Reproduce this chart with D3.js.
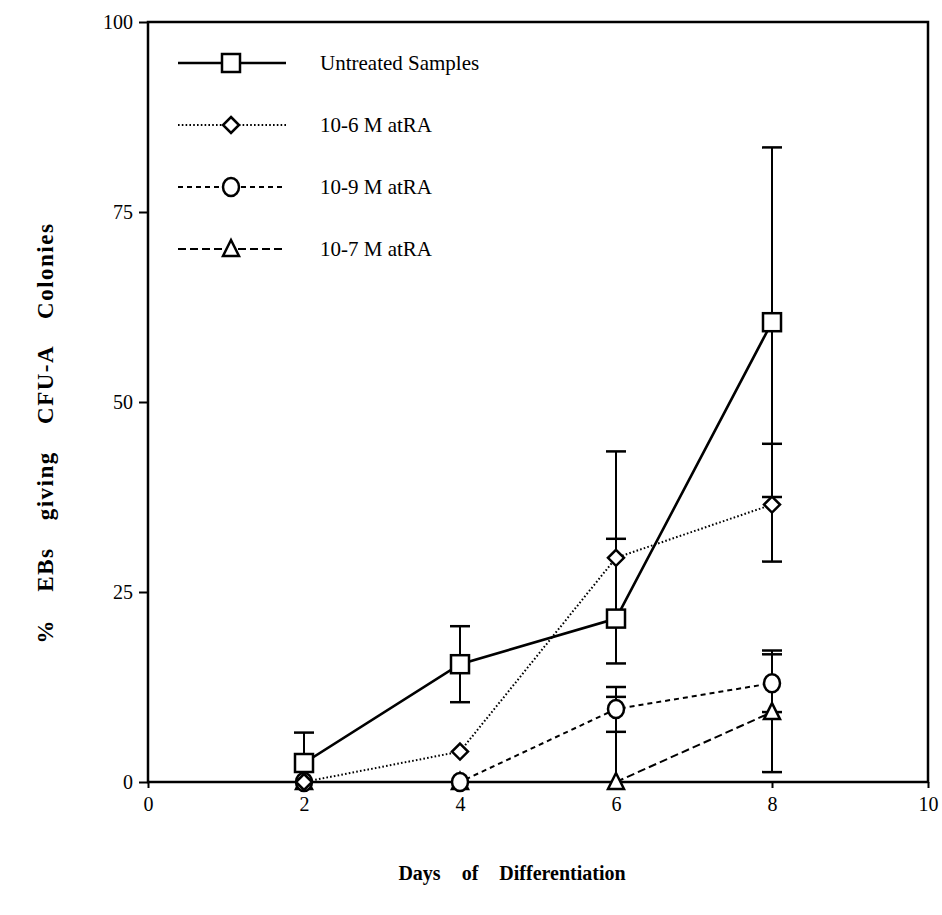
<!DOCTYPE html>
<html>
<head>
<meta charset="utf-8">
<script src="https://cdn.jsdelivr.net/npm/d3@7"></script>
<style>
  body { margin: 0; background: #fff; }
  svg { display: block; }
</style>
</head>
<body>
<main></main>
<script>
// Dados
const days = [2, 4, 6, 8];
const seriesNames = ['Untreated Samples', '10-6 M atRA', '10-9 M atRA', '10-7 M atRA'];
const untreated = [2.5, 15.5, 21.5, 60.5];
const untreatedHi = [6.5, 20.5, 43.5, 83.5];
const untreatedLo = [null, 10.5, 15.6, 37.5];
const atra6 = [0, 4, 29.5, 36.5];
const atra6Hi = [null, null, 32, 44.5];
const atra6Lo = [null, null, null, 29];
const atra9 = [0, 0, 9.6, 13];
const atra9Hi = [null, null, 12.5, 16.8];
const atra9Lo = [null, null, 6.6, 9.2];
const atra7 = [0, 0, 0, 9.2];
const atra7Hi = [null, null, 11.2, 17.3];
const atra7Lo = [null, null, null, 1.3];
const xTicks = [0, 2, 4, 6, 8, 10];
const yTicks = [0, 25, 50, 75, 100];

const series = [
  { name: seriesNames[0], y: untreated, hi: untreatedHi, lo: untreatedLo, dash: null, width: 2.6, marker: 'square' },
  { name: seriesNames[1], y: atra6, hi: atra6Hi, lo: atra6Lo, dash: '1.6,2.2', width: 2, marker: 'diamond' },
  { name: seriesNames[2], y: atra9, hi: atra9Hi, lo: atra9Lo, dash: '5,4', width: 2, marker: 'circle' },
  { name: seriesNames[3], y: atra7, hi: atra7Hi, lo: atra7Lo, dash: '8,4', width: 2, marker: 'triangle' }
];

const svgWidth = 942, svgHeight = 915;
const margin = { top: 22, right: 14, bottom: 133, left: 148 };
const width = svgWidth - margin.left - margin.right;
const height = svgHeight - margin.top - margin.bottom;

const svg = d3.select('main').append('svg')
  .attr('width', svgWidth)
  .attr('height', svgHeight);

const g = svg.append('g')
  .attr('transform', `translate(${margin.left},${margin.top})`);

const x = d3.scaleLinear().domain([0, 10]).range([0, width]);
const y = d3.scaleLinear().domain([0, 100]).range([height, 0]);

// Moldura
g.append('rect')
  .attr('width', width).attr('height', height)
  .attr('fill', 'none').attr('stroke', '#000').attr('stroke-width', 2.5);

// Eixos
const yAxis = g.append('g')
  .call(d3.axisLeft(y).tickValues(yTicks).tickSize(9).tickPadding(6));
yAxis.select('.domain').remove();
yAxis.selectAll('line').attr('stroke-width', 2);
yAxis.selectAll('text')
  .attr('font-family', 'Liberation Serif').attr('font-size', 20).attr('fill', '#000');

const xAxis = g.append('g')
  .attr('transform', `translate(0,${height})`)
  .call(d3.axisBottom(x).tickValues(xTicks).tickSize(6).tickPadding(9));
xAxis.select('.domain').remove();
xAxis.selectAll('line').attr('stroke-width', 2);
xAxis.selectAll('text')
  .attr('font-family', 'Liberation Serif')
  .attr('font-size', 20)
  .attr('fill', '#000');

// Marcadores
function drawMarker(sel, type) {
  if (type === 'square') {
    sel.append('rect').attr('x', -9).attr('y', -9).attr('width', 18).attr('height', 18);
  } else if (type === 'diamond') {
    sel.append('path').attr('d', 'M0,-8L8,0L0,8L-8,0Z');
  } else if (type === 'circle') {
    sel.append('ellipse').attr('rx', 8).attr('ry', 9);
  } else {
    sel.append('path').attr('d', 'M0,-9L8,7L-8,7Z');
  }
  sel.selectAll('*').attr('fill', '#fff').attr('stroke', '#000').attr('stroke-width', 2.5);
}

const line = d3.line().x((d, i) => x(days[i])).y(d => y(d));

// Barras de erro
series.forEach(s => {
  days.forEach((d, i) => {
    [s.hi[i], s.lo[i]].forEach(v => {
      if (v === null) return;
      g.append('line')
        .attr('x1', x(d)).attr('x2', x(d))
        .attr('y1', y(s.y[i])).attr('y2', y(v))
        .attr('stroke', '#000').attr('stroke-width', 2);
      g.append('line')
        .attr('x1', x(d) - 10).attr('x2', x(d) + 10)
        .attr('y1', y(v)).attr('y2', y(v))
        .attr('stroke', '#000').attr('stroke-width', 2.5);
    });
  });
});

// Linhas
series.forEach(s => {
  g.append('path')
    .datum(s.y)
    .attr('d', line)
    .attr('fill', 'none')
    .attr('stroke', '#000')
    .attr('stroke-width', s.width)
    .attr('stroke-dasharray', s.dash);
});

// Pontos
series.slice().reverse().forEach(s => {
  s.y.forEach((v, i) => {
    const m = g.append('g').attr('transform', `translate(${x(days[i])},${y(v)})`);
    drawMarker(m, s.marker);
  });
});

// Legenda
const legend = svg.append('g');
series.forEach((s, i) => {
  const ly = 63 + i * 62;
  legend.append('line')
    .attr('x1', 178).attr('x2', 286).attr('y1', ly).attr('y2', ly)
    .attr('stroke', '#000').attr('stroke-width', s.width)
    .attr('stroke-dasharray', s.dash);
  const m = legend.append('g').attr('transform', `translate(231,${ly})`);
  drawMarker(m, s.marker);
  legend.append('text')
    .attr('x', 320).attr('y', ly + 7)
    .attr('font-family', 'Liberation Serif').attr('font-size', 21)
    .text(s.name);
});

// Títulos
svg.append('text')
  .attr('transform', 'translate(53,433) rotate(-90)')
  .attr('text-anchor', 'middle')
  .attr('font-family', 'Liberation Serif').attr('font-weight', 'bold')
  .attr('font-size', 23).attr('letter-spacing', 1.5).attr('word-spacing', 20)
  .text('% EBs giving CFU-A Colonies');

svg.append('text')
  .attr('x', 512).attr('y', 880)
  .attr('text-anchor', 'middle')
  .attr('font-family', 'Liberation Serif').attr('font-weight', 'bold')
  .attr('font-size', 20).attr('word-spacing', 16)
  .text('Days of Differentiation');
</script>
</body>
</html>
